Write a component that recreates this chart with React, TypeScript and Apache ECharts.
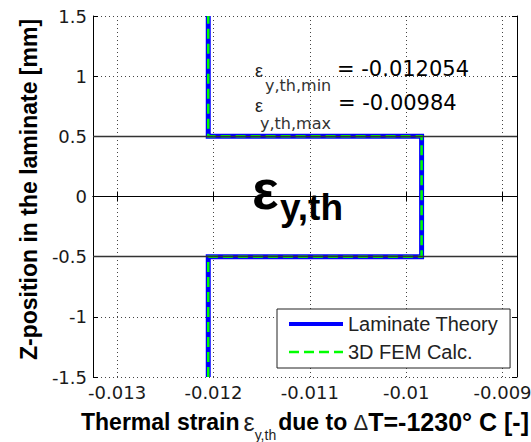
import React, { useEffect, useRef } from "react";
import * as echarts from "echarts";

// ---- data ----
const zPositions = [-1.5, -0.5, -0.5, 0.5, 0.5, 1.5];
const laminateStrain = [-0.012054, -0.012054, -0.00984, -0.00984, -0.012054, -0.012054];
const femStrain = [-0.012054, -0.012054, -0.00984, -0.00984, -0.012054, -0.012054];
const layerBoundaries = [0.5, -0.5];
const xLimits = [-0.01325, -0.00885];
const yLimits = [-1.5, 1.5];
const yInterval = 0.5;
const seriesNames = ["Laminate Theory", "3D FEM Calc."];
const epsMinText = "= -0.012054";
const epsMaxText = "= -0.00984";

const TICK_FONT = "DejaVu Sans";
const MAIN_FONT = "Liberation Sans, Arial, sans-serif";

export default function App() {
  const ref = useRef<HTMLDivElement>(null);

  useEffect(() => {
    if (!ref.current) return;
    const chart = echarts.init(ref.current, undefined, { renderer: "svg" });

    const lamData = laminateStrain.map((x, i) => [x, zPositions[i]]);
    const femData = femStrain.map((x, i) => [x, zPositions[i]]);

    const xTickFormatter = (v: number) => {
      const k = v * 1000;
      if (Math.abs(k - Math.round(k)) > 1e-6) return "";
      return String(Number(v.toFixed(3)));
    };

    const axisLine = { show: true, lineStyle: { color: "#000", width: 1 } };
    const tick = { show: true, inside: true, length: 5, lineStyle: { color: "#000", width: 1 } };
    const dotted = { show: true, lineStyle: { color: "#444", width: 1, type: [1, 3] as any } };

    const option: any = {
      animation: false,
      backgroundColor: "#fff",
      grid: { left: 93, top: 16, width: 424, height: 361, containLabel: false, outerBoundsMode: "none" },
      xAxis: [
        {
          type: "value",
          min: xLimits[0],
          max: xLimits[1],
          position: "bottom",
          axisLine,
          axisTick: tick,
          splitLine: dotted,
          axisLabel: {
            show: true,
            margin: 6,
            fontFamily: TICK_FONT,
            fontSize: 18,
            color: "#1a1a1a",
            showMinLabel: false,
            showMaxLabel: false,
            formatter: xTickFormatter,
          },
          name: "{a|Thermal strain}{e|ε}{s|y,th}{a|due to }{d|Δ}{c|T=-1230° C [-]}",
          nameLocation: "middle",
          nameGap: 25,
          nameTextStyle: {
            color: "#000",
            rich: {
              a: { fontFamily: MAIN_FONT, fontWeight: "bold", fontSize: 23, color: "#000" },
              c: { fontFamily: MAIN_FONT, fontWeight: "bold", fontSize: 25, color: "#000" },
              e: { fontFamily: MAIN_FONT, fontSize: 25, color: "#222", padding: [0, 0, 0, 4] },
              s: { fontFamily: MAIN_FONT, fontSize: 14, color: "#222", padding: [26, 2, 0, 0] },
              d: { fontFamily: MAIN_FONT, fontSize: 22, color: "#222" },
            },
          },
        },
        {
          type: "value",
          min: xLimits[0],
          max: xLimits[1],
          position: "top",
          axisLine,
          axisTick: tick,
          splitLine: { show: false },
          axisLabel: { show: false },
        },
      ],
      yAxis: [
        {
          type: "value",
          min: yLimits[0],
          max: yLimits[1],
          interval: yInterval,
          position: "left",
          axisLine,
          axisTick: tick,
          splitLine: dotted,
          axisLabel: {
            show: true,
            margin: 6,
            fontFamily: TICK_FONT,
            fontSize: 18,
            color: "#1a1a1a",
          },
          name: "Z-position in the laminate [mm]",
          nameLocation: "middle",
          nameGap: 40,
          nameRotate: 90,
          nameTextStyle: {
            fontFamily: MAIN_FONT,
            fontWeight: "bold",
            fontSize: 23,
            color: "#000",
            padding: [0, 0, 0, 14],
          },
        },
        {
          type: "value",
          min: yLimits[0],
          max: yLimits[1],
          interval: yInterval,
          position: "right",
          axisLine,
          axisTick: tick,
          splitLine: { show: false },
          axisLabel: { show: false },
        },
      ],
      legend: {
        data: [
          { name: seriesNames[0], lineStyle: { width: 4 }, itemStyle: { opacity: 0, borderWidth: 0 } },
          { name: seriesNames[1], lineStyle: { width: 2.5 }, itemStyle: { opacity: 0, borderWidth: 0 } },
        ],
        itemStyle: { opacity: 0, borderWidth: 0 },
        orient: "vertical",
        left: 277,
        top: 309,
        padding: [5, 12, 6, 10],
        itemGap: 8,
        itemWidth: 54,
        itemHeight: 14,
        backgroundColor: "#fff",
        borderColor: "#222",
        borderWidth: 1,
        borderRadius: 0,
        textStyle: { fontFamily: MAIN_FONT, fontSize: 20, color: "#222" },
      },
      series: [
        {
          name: "boundaries",
          type: "line",
          data: [],
          z: 1,
          markLine: {
            silent: true,
            symbol: ["none", "none"],
            label: { show: false },
            lineStyle: { color: "#333", width: 1.3, type: "solid" },
            data: layerBoundaries.map((v) => ({ yAxis: v })),
          },
        },
        {
          name: seriesNames[0],
          type: "line",
          data: lamData,
          symbol: "none",
          z: 2,
          lineStyle: { color: "#0000ff", width: 5, cap: "butt", join: "miter" },
          itemStyle: { color: "#0000ff" },
        },
        {
          name: seriesNames[1],
          type: "line",
          data: femData,
          symbol: "none",
          z: 3,
          lineStyle: { color: "#00ff00", width: 2.5, type: [10, 5], cap: "butt", join: "miter" },
          itemStyle: { color: "#00ff00" },
        },
      ],
      graphic: [
        // min annotation
        { type: "text", x: 255, y: 70.5, style: { text: "ε", font: `18px ${MAIN_FONT}`, fill: "#222", verticalAlign: "middle" } },
        { type: "text", x: 265, y: 85.5, style: { text: "y,th,min", font: `16px ${TICK_FONT}`, fill: "#333", verticalAlign: "middle" } },
        { type: "text", x: 337, y: 69, style: { text: epsMinText, font: `21px ${TICK_FONT}`, fill: "#000", verticalAlign: "middle" } },
        // max annotation
        { type: "text", x: 255, y: 105.5, style: { text: "ε", font: `18px ${MAIN_FONT}`, fill: "#222", verticalAlign: "middle" } },
        { type: "text", x: 260, y: 123.5, style: { text: "y,th,max", font: `16px ${TICK_FONT}`, fill: "#333", verticalAlign: "middle" } },
        { type: "text", x: 338, y: 103, style: { text: epsMaxText, font: `21px ${TICK_FONT}`, fill: "#000", verticalAlign: "middle" } },
        // big label
        { type: "text", x: 252, y: 189, style: { text: "ε", font: `bold 56px ${MAIN_FONT}`, fill: "#000", verticalAlign: "middle" } },
        { type: "text", x: 280, y: 207, style: { text: "y,th", font: `bold 37px ${MAIN_FONT}`, fill: "#000", verticalAlign: "middle" } },
      ],
    };

    chart.setOption(option);
    return () => chart.dispose();
  }, []);

  return <div ref={ref} style={{ width: 531, height: 442, position: "absolute", left: 0, top: 0 }} />;
}
